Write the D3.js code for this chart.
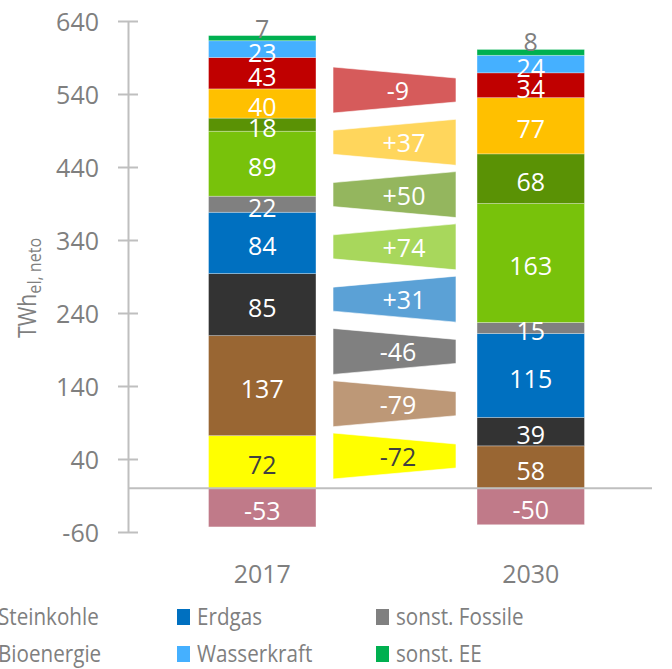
<!DOCTYPE html>
<html>
<head>
<meta charset="utf-8">
<script src="https://cdn.jsdelivr.net/npm/d3@7"></script>
<style>
  body { margin: 0; background: #fff; }
  svg { display: block; font-family: "Open Sans", "Noto Sans", sans-serif; }
</style>
</head>
<body>
<div id="chart"></div>
<script>
// data (TWh)
const years = ['2017', '2030'];
const seriesNames = ['Nettoexport', 'Kernenergie', 'Braunkohle', 'Steinkohle', 'Erdgas', 'sonst. Fossile',
    'Wind onshore', 'Wind offshore', 'Photovoltaik', 'Bioenergie', 'Wasserkraft', 'sonst. EE'];
const values2017 = [-53, 72, 137, 85, 84, 22, 89, 18, 40, 43, 23, 7];
const values2030 = [-50, 0, 58, 39, 115, 15, 163, 68, 77, 34, 24, 8];
const yTicks = [-60, 40, 140, 240, 340, 440, 540, 640];

// change arrows, top to bottom
const changeNames = ['Bioenergie', 'Photovoltaik', 'Wind offshore', 'Wind onshore', 'Erdgas', 'Steinkohle', 'Braunkohle', 'Kernenergie'];
const changeValues = [-9, 37, 50, 74, 31, -46, -79, -72];

// legend entries visible in the picture (first column cut off on the left)
const legendNames = ['Steinkohle', 'Erdgas', 'sonst. Fossile', 'Bioenergie', 'Wasserkraft', 'sonst. EE'];

const seriesColors = ['#C07A89', '#FFFF00', '#996633', '#333333', '#0070C0', '#808080',
    '#78C20B', '#5A9205', '#FFC000', '#C00000', '#45B0FF', '#00B050'];
const changeColors = ['#D65B5B', '#FFD65C', '#94B65E', '#A8D75C', '#5BA1D6', '#808080', '#BD9877', '#FFFF00'];

const svgWidth = 672;
const svgHeight = 669;
const textGray = '#7F7F7F';
const axisGray = '#BFBFBF';

const color = d3.scaleOrdinal().domain(seriesNames).range(seriesColors);

const svg = d3.select('#chart')
    .append('svg')
    .attr('width', svgWidth)
    .attr('height', svgHeight);

const xScale = d3.scaleBand()
    .domain(years)
    .range([128, 665])
    .paddingInner(0.6)
    .paddingOuter(0.3);

const yScale = d3.scaleLinear()
    .domain([-60, 640])
    .range([532, 21]);

// y axis
const yAxis = d3.axisLeft(yScale)
    .tickValues(yTicks)
    .tickFormat(d => String(d))
    .tickSize(0)
    .tickPadding(29);

const yAxisG = svg.append('g')
    .attr('transform', 'translate(128,0)')
    .call(yAxis);
yAxisG.select('.domain').attr('stroke', axisGray).attr('stroke-width', 2);
yAxisG.selectAll('.tick line').remove();
yAxisG.selectAll('.tick').append('line')
    .attr('x1', -10).attr('x2', 10)
    .attr('stroke', axisGray).attr('stroke-width', 2);
yAxisG.selectAll('.tick text')
    .attr('fill', textGray)
    .attr('font-size', 25)
    .attr('font-family', '"Open Sans", sans-serif')
    .attr('dy', '0.36em');

// axis title
const yTitle = svg.append('text')
    .attr('transform', 'translate(36,338) rotate(-90) scale(0.85,1)')
    .attr('fill', textGray)
    .attr('font-size', 25);
yTitle.append('tspan').text('TWh');
yTitle.append('tspan').attr('font-size', 19).attr('dy', 5).text('el, neto');

// stacked bars
const rows = years.map((year, i) => {
    const vals = i === 0 ? values2017 : values2030;
    const row = { year: year };
    seriesNames.forEach((name, j) => { row[name] = vals[j]; });
    return row;
});

const stacked = d3.stack()
    .keys(seriesNames)
    .offset(d3.stackOffsetDiverging)(rows);

const layers = svg.append('g').selectAll('g')
    .data(stacked)
    .join('g')
    .attr('fill', d => color(d.key));

layers.selectAll('rect')
    .data(d => d.filter(s => s[1] !== s[0]))
    .join('rect')
    .attr('x', d => xScale(d.data.year))
    .attr('width', xScale.bandwidth())
    .attr('y', d => yScale(Math.max(d[0], d[1])))
    .attr('height', d => Math.abs(yScale(d[0]) - yScale(d[1])))
    .attr('stroke', '#ffffff')
    .attr('stroke-opacity', 0.35)
    .attr('stroke-width', 0.8);

// zero line
svg.append('line')
    .attr('x1', 128).attr('x2', 652)
    .attr('y1', yScale(0)).attr('y2', yScale(0))
    .attr('stroke', axisGray)
    .attr('stroke-width', 2);

// segment labels
const labelData = [];
stacked.forEach(layer => {
    layer.forEach(s => {
        const v = s.data[layer.key];
        if (v === 0) return;
        labelData.push({ key: layer.key, year: s.data.year, v: v, lo: s[0], hi: s[1] });
    });
});

svg.append('g').selectAll('text')
    .data(labelData)
    .join('text')
    .attr('x', d => xScale(d.year) + xScale.bandwidth() / 2)
    .attr('y', d => d.key === 'sonst. EE'
        ? yScale(d.hi) + 2
        : yScale((d.lo + d.hi) / 2) + 12.5)
    .attr('text-anchor', 'middle')
    .attr('font-size', 25)
    .attr('fill', d => d.key === 'sonst. EE' ? textGray : (d.key === 'Kernenergie' ? '#404040' : '#ffffff'))
    .text(d => String(d.v));

// change arrows between the bars
const arrowY = d3.scalePoint()
    .domain(changeNames)
    .range([90, 456]);
const ax0 = 333, ax1 = 456, tallHalf = 23, shortHalf = 12;

const arrows = svg.append('g').selectAll('g')
    .data(changeNames.map((name, i) => ({ name: name, v: changeValues[i], c: changeColors[i] })))
    .join('g');

arrows.append('polygon')
    .attr('points', d => {
        const cy = arrowY(d.name);
        const l = d.v < 0 ? tallHalf : shortHalf;
        const r = d.v < 0 ? shortHalf : tallHalf;
        return [[ax0, cy - l], [ax1, cy - r], [ax1, cy + r], [ax0, cy + l]].join(' ');
    })
    .attr('fill', d => d.c)
    .attr('stroke', '#ffffff')
    .attr('stroke-opacity', 0.6)
    .attr('stroke-width', 1);

arrows.append('text')
    .attr('x', d => d.v > 0 ? 404 : 398)
    .attr('y', d => arrowY(d.name) + 10)
    .attr('text-anchor', 'middle')
    .attr('font-size', 25)
    .attr('fill', d => d.name === 'Kernenergie' ? '#404040' : '#ffffff')
    .text(d => (d.v > 0 ? '+' : '') + d.v);

// year labels
svg.append('g').selectAll('text')
    .data(years)
    .join('text')
    .attr('x', d => xScale(d) + xScale.bandwidth() / 2)
    .attr('y', 583)
    .attr('text-anchor', 'middle')
    .attr('font-size', 25)
    .attr('fill', textGray)
    .text(d => d);

// legend
const legend = svg.append('g').selectAll('g')
    .data(legendNames)
    .join('g')
    .attr('transform', (d, i) => `translate(${-22 + (i % 3) * 199}, ${617 + Math.floor(i / 3) * 37})`);

legend.append('rect')
    .attr('x', 0).attr('y', -8)
    .attr('width', 13).attr('height', 16)
    .attr('fill', d => color(d));

legend.append('text')
    .attr('transform', 'translate(20,8) scale(0.86,1)')
    .attr('font-size', 24)
    .attr('fill', textGray)
    .text(d => d);
</script>
</body>
</html>
